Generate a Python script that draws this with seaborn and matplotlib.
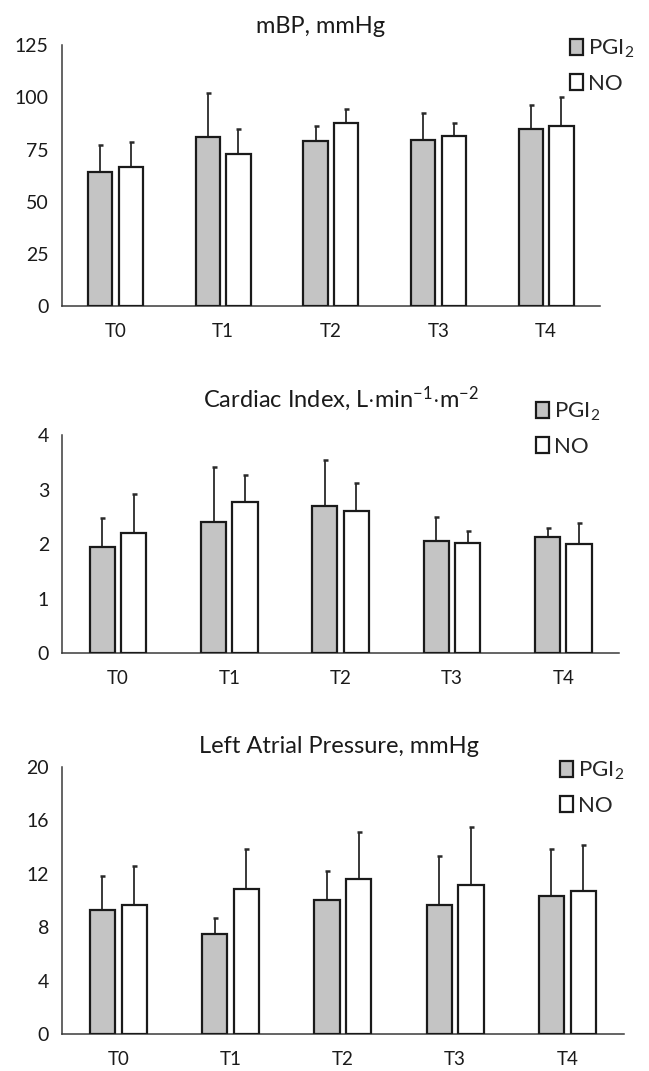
import numpy as np
import pandas as pd
import matplotlib
matplotlib.use("Agg")
import matplotlib.pyplot as plt
import seaborn as sns

# ---------------- data ----------------
categories = ["T0", "T1", "T2", "T3", "T4"]
groups = ["PGI$_2$", "NO"]

mbp_pgi = [64.4, 81.0, 79.1, 79.4, 84.7]
mbp_pgi_sd = [12.9, 20.9, 7.2, 13.1, 11.5]
mbp_no = [66.8, 72.9, 87.8, 81.3, 86.3]
mbp_no_sd = [11.9, 11.8, 6.6, 6.5, 13.7]

ci_pgi = [1.94, 2.41, 2.70, 2.06, 2.13]
ci_pgi_sd = [0.53, 1.00, 0.84, 0.44, 0.17]
ci_no = [2.20, 2.78, 2.60, 2.02, 2.00]
ci_no_sd = [0.71, 0.49, 0.52, 0.22, 0.38]

lap_pgi = [9.28, 7.46, 10.0, 9.65, 10.33]
lap_pgi_sd = [2.54, 1.24, 2.19, 3.69, 3.50]
lap_no = [9.65, 10.82, 11.57, 11.12, 10.71]
lap_no_sd = [2.94, 3.02, 3.57, 4.39, 3.40]

titles = ["mBP, mmHg",
          r"Cardiac Index, L$\cdot$min$^{\mathrm{-1}}$$\cdot$m$^{\mathrm{-2}}$",
          "Left Atrial Pressure, mmHg"]
yticks_list = [[0, 25, 50, 75, 100, 125], [0, 1, 2, 3, 4], [0, 4, 8, 12, 16, 20]]

panels = [
    (mbp_pgi, mbp_pgi_sd, mbp_no, mbp_no_sd),
    (ci_pgi, ci_pgi_sd, ci_no, ci_no_sd),
    (lap_pgi, lap_pgi_sd, lap_no, lap_no_sd),
]

# ---------------- style ----------------
sns.set_style("white")
plt.rcParams["font.family"] = ["Lato", "DejaVu Sans"]
plt.rcParams["mathtext.fontset"] = "custom"
plt.rcParams["mathtext.rm"] = "Lato"
plt.rcParams["mathtext.it"] = "Lato:italic"
plt.rcParams["mathtext.bf"] = "Lato:bold"

W, H = 649, 1071
DPI = 100
fig = plt.figure(figsize=(W / DPI, H / DPI), dpi=DPI)

# axes boxes in pixels: left, right, top, bottom
boxes = [(61.7, 600, 45, 306.3), (62.3, 619, 435, 653.3), (62.2, 623.5, 766.7, 1034)]
title_pos = [(320.5, 33), (341, 406.7), (339, 752.7)]
legend_pos = [(570, 38), (536, 401), (560, 760)]

pgi_color = "#c4c4c4"
no_color = "#ffffff"
edge = "#1a1a1a"
spine_col = "#3a3a3a"

for i, (p, ps, n, ns) in enumerate(panels):
    l, r, t, b = boxes[i]
    ax = fig.add_axes([l / W, 1 - b / H, (r - l) / W, (b - t) / H])
    df = pd.DataFrame({
        "time": categories * 2,
        "value": list(p) + list(n),
        "group": [groups[0]] * 5 + [groups[1]] * 5,
    })
    sns.barplot(data=df, x="time", y="value", hue="group", order=categories,
                hue_order=groups, palette=[pgi_color, no_color], width=0.566,
                gap=0.2, edgecolor=edge, linewidth=1.6, saturation=1,
                errorbar=None, legend=False, ax=ax, zorder=3)
    # upward-only error bars at library-computed bar positions
    for cont, sds in zip(ax.containers, [ps, ns]):
        xs = [bar.get_x() + bar.get_width() / 2 for bar in cont]
        hs = [bar.get_height() for bar in cont]
        ax.errorbar(xs, hs, yerr=[np.zeros(len(sds)), np.array(sds)], fmt="none",
                    ecolor="#2a2a2a", elinewidth=1.3, capsize=1.8, capthick=1.8,
                    zorder=2)
    yt = yticks_list[i]
    ax.set_ylim(yt[0], yt[-1])
    ax.set_xlim(-0.5, 4.5)
    ax.set_yticks(yt)
    ax.set_yticklabels([str(v) for v in yt])
    ax.set_xticks(range(5))
    ax.set_xticklabels(categories)
    ax.set_xticks(np.arange(-0.5, 5, 1), minor=True)
    ax.tick_params(axis="x", which="major", length=0, pad=12, labelsize=13.5,
                   colors="#1a1a1a")
    ax.tick_params(axis="x", which="minor", length=5, width=1.1, color=spine_col,
                   direction="out")
    ax.tick_params(axis="y", which="major", length=5, width=1.1, color=spine_col,
                   direction="out", pad=4.5, labelsize=14, labelcolor="#1a1a1a")
    ax.set_xlabel("")
    ax.set_ylabel("")
    for s in ["top", "right"]:
        ax.spines[s].set_visible(False)
    for s in ["left", "bottom"]:
        ax.spines[s].set_color(spine_col)
        ax.spines[s].set_linewidth(1.1)
    ax.set_facecolor("none")
    ax.grid(False)

    tx, ty = title_pos[i]
    fig.text(tx / W, 1 - ty / H, titles[i], ha="center", va="baseline",
             fontsize=17, color="#1a1a1a")

    handles = [ax.containers[0][0], ax.containers[1][0]]
    lx, ly = legend_pos[i]
    ax.legend(handles, groups, loc="upper left",
              bbox_to_anchor=(lx / W, 1 - ly / H), bbox_transform=fig.transFigure,
              frameon=False, fontsize=16, handlelength=0.6, handleheight=0.72,
              handletextpad=0.2, labelspacing=0.6, borderpad=0, borderaxespad=0)

fig.savefig("out.png", dpi=DPI)
